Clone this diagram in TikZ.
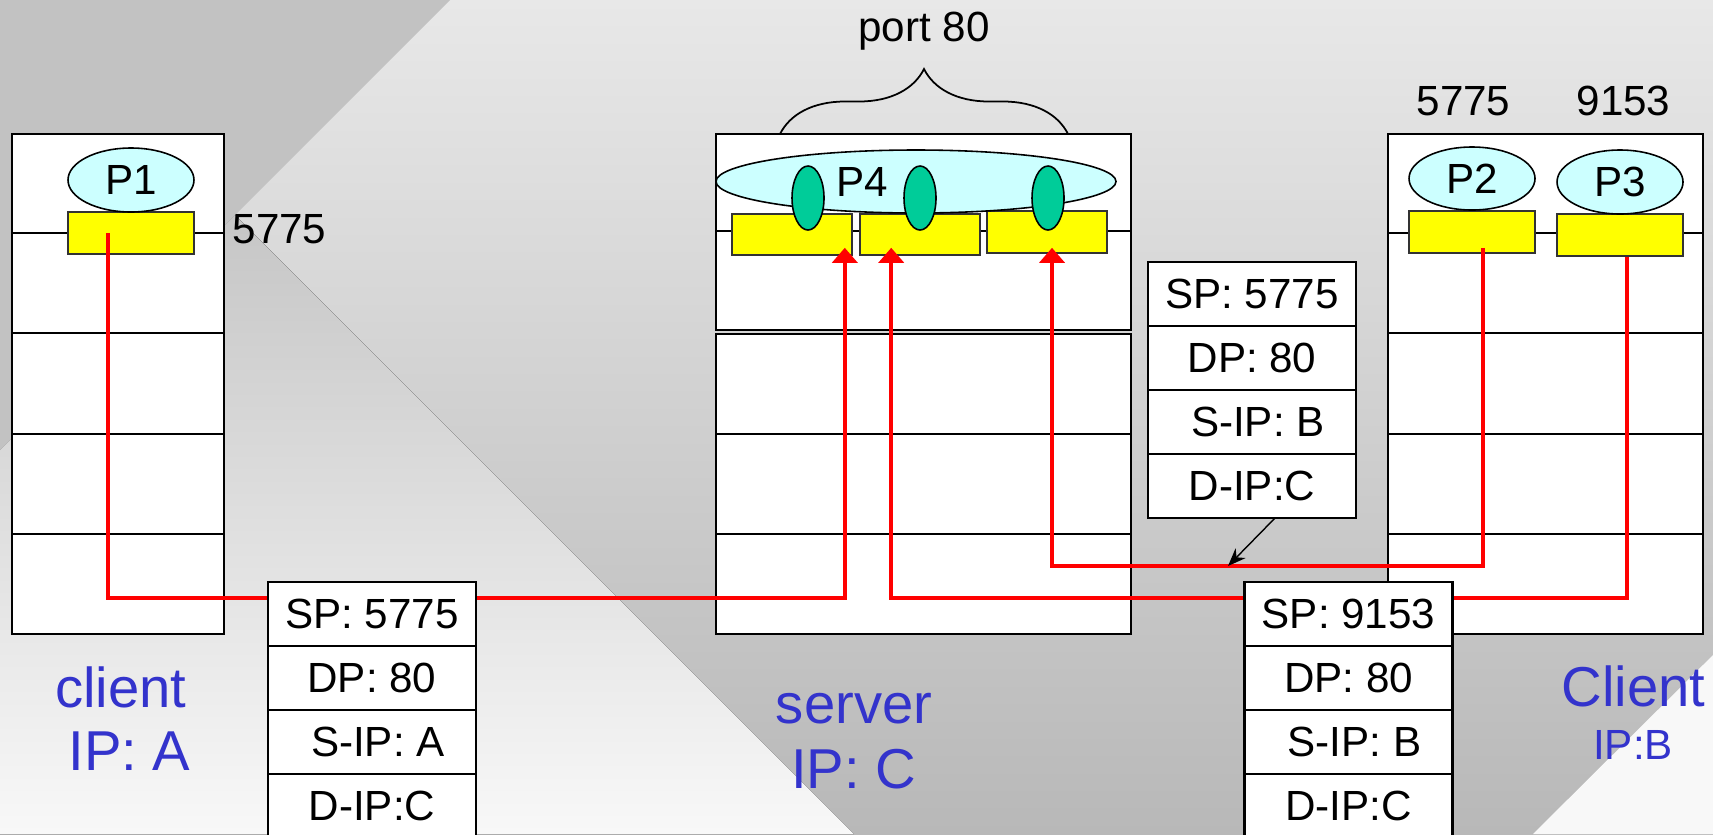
\documentclass[tikz,border=0pt]{standalone}
\usepackage{fontspec}
\setmainfont{Liberation Sans}
\usetikzlibrary{shapes.geometric,arrows.meta,positioning,decorations.pathreplacing}
\definecolor{bgtop}{HTML}{E8E8E8}
\definecolor{bgbot}{HTML}{B8B8B8}
\definecolor{lowtop}{HTML}{C6C6C6}
\definecolor{lowbot}{HTML}{F8F8F8}
\definecolor{cornergray}{HTML}{C2C2C2}
\definecolor{proccyan}{HTML}{CCFFFF}
\definecolor{sockyellow}{HTML}{FFFF00}
\definecolor{threadgreen}{HTML}{00CC99}
\definecolor{hostblue}{HTML}{3333CC}
\tikzstyle{host} = [rectangle, draw, line width=0.6pt, fill=white, inner sep=0pt, outer sep=0pt]
\tikzstyle{layer} = [draw, line width=0.6pt]
\tikzstyle{sock} = [rectangle, draw=black!80, line width=0.45pt, fill=sockyellow, minimum width=1.26cm, minimum height=0.42cm, inner sep=0pt]
\tikzstyle{proc} = [ellipse, draw, line width=0.45pt, fill=proccyan, minimum width=1.26cm, minimum height=0.64cm, inner sep=0pt]
\tikzstyle{thread} = [ellipse, draw, line width=0.45pt, fill=threadgreen, minimum width=0.32cm, minimum height=0.64cm, inner sep=0pt]
\tikzstyle{field} = [rectangle, draw, line width=0.6pt, fill=white, minimum width=2.08cm, minimum height=0.64cm, inner sep=0pt, outer sep=0pt]
\tikzstyle{flow} = [draw, red, line width=1.2pt, -{Triangle[width=0.25cm,length=0.15cm]}]
\tikzstyle{iplabel} = [text=hostblue, font=\fontsize{16}{18}\selectfont, anchor=base, inner sep=0pt]

\begin{document}
\begin{tikzpicture}[font=\fontsize{12}{14}\selectfont]

\useasboundingbox (0,0) rectangle (17.13,-8.34);
\clip (0,0) rectangle (17.13,-8.34);

% background
\fill [top color=bgtop, bottom color=bgbot] (0,0) rectangle (17.13,-8.34);
\fill [top color=lowtop, bottom color=lowbot] (0,-4.50) -- (2.35,-2.15) -- (8.54,-8.34) -- (0,-8.34) -- cycle;
\fill [cornergray] (0,0) -- (4.50,0) -- (0,-4.50) -- cycle;
\fill [lowbot] (17.13,-6.55) -- (17.13,-8.34) -- (15.33,-8.34) -- cycle;

% hosts
\node [host, minimum width=2.12cm, minimum height=5cm] at (1.18,-3.84) (hostA) {};
\node [host, minimum width=4.15cm, minimum height=1.96cm] at (9.235,-2.32) (srvTop) {};
\node [host, minimum width=4.15cm, minimum height=3cm] at (9.235,-4.84) (srvBot) {};
\node [host, minimum width=3.15cm, minimum height=5cm] at (15.455,-3.84) (hostB) {};

\foreach \dy in {0.99,1.99,3.00,4.00} {
  \path [layer] ([yshift=-\dy cm]hostA.north west) -- ([yshift=-\dy cm]hostA.north east);
  \path [layer] ([yshift=-\dy cm]hostB.north west) -- ([yshift=-\dy cm]hostB.north east);
}
\path [layer] ([yshift=-0.97cm]srvTop.north west) -- ([yshift=-0.97cm]srvTop.north east);
\foreach \dy in {1.00,2.00}
  \path [layer] ([yshift=-\dy cm]srvBot.north west) -- ([yshift=-\dy cm]srvBot.north east);

% sockets
\node [sock] at (1.31,-2.33) (sockA) {};
\node [sock, minimum width=1.20cm, minimum height=0.41cm] at (7.92,-2.345) (s1) {};
\node [sock, minimum width=1.20cm, minimum height=0.41cm] at (9.20,-2.345) (s2) {};
\node [sock, minimum width=1.20cm] at (10.47,-2.32) (s3) {};
\node [sock] at (14.72,-2.32) (sockP2) {};
\node [sock] at (16.20,-2.35) (sockP3) {};

% processes
\node [proc] at (1.31,-1.80) (p1) {P1};
\node [proc, minimum width=4cm, minimum height=0.63cm] at (9.16,-1.815) (p4) {};
\node at (8.62,-1.82) (p4txt) {P4};
\node [thread] at (8.08,-1.98) (t1) {};
\node [thread] at (9.20,-1.98) (t2) {};
\node [thread] at (10.48,-1.98) (t3) {};
\node [proc, minimum height=0.63cm] at (14.72,-1.785) (p2) {P2};
\node [proc] at (16.20,-1.82) (p3) {P3};

% port numbers
\node [anchor=base] at (2.795,-2.43) (portA) {5775};
\node [anchor=base] at (14.635,-1.15) (portP2) {5775};
\node [anchor=base] at (16.235,-1.15) (portP3) {9153};
\draw [decorate, decoration={brace, amplitude=0.65cm}, line width=0.5pt]
  ([xshift=0.64cm]srvTop.north west) -- ([xshift=-0.63cm]srvTop.north east);
\node [anchor=base] at (9.24,-0.41) (port80) {port 80};

% demultiplexing paths
\coordinate (busA) at (0,-5.98);
\coordinate (busB) at (0,-5.66);
\coordinate (tipA) at ([xshift=-0.08cm,yshift=0.08cm]s1.south east);
\coordinate (tipB) at ([xshift=0.32cm,yshift=0.08cm]s2.south west);
\coordinate (tipC) at ([xshift=0.05cm,yshift=0.06cm]s3.south);
\path [flow] ([xshift=-0.23cm]sockA.center) |- (tipA |- busA) -- (tipA);
\path [flow] ([xshift=0.07cm]sockP3.south) |- (tipB |- busA) -- (tipB);
\path [flow] ([xshift=0.11cm,yshift=0.06cm]sockP2.south) |- (tipC |- busB) -- (tipC);

% segments
\node [field] at (3.72,-6.14) (pktA1) {SP: 5775};
\node [field, below=0cm of pktA1] (pktA2) {DP: 80};
\node [field, below=0cm of pktA2] (pktA3) {\ S-IP: A};
\node [field, below=0cm of pktA3] (pktA4) {D-IP:C};

\node [field] at (13.485,-6.14) (pktB1) {SP: 9153};
\node [field, below=0cm of pktB1] (pktB2) {DP: 80};
\node [field, below=0cm of pktB2] (pktB3) {\ S-IP: B};
\node [field, below=0cm of pktB3] (pktB4) {D-IP:C};

\node [field] at (12.52,-2.94) (pktC1) {SP: 5775};
\node [field, below=0cm of pktC1] (pktC2) {DP: 80};
\node [field, below=0cm of pktC2] (pktC3) {\ S-IP: B};
\node [field, below=0cm of pktC3] (pktC4) {D-IP:C};

\coordinate (hit) at (12.28,-5.66);
\draw [line width=0.4pt, -{Stealth[length=0.18cm,width=0.14cm]}] ([xshift=0.23cm]pktC4.south) -- (hit);

% host names
\node [iplabel] at (1.21,-7.07) (nameA) {client};
\node [iplabel] at (1.295,-7.70) (ipA) {IP: A};
\node [iplabel] at (8.54,-7.23) (nameS) {server};
\node [iplabel] at (8.535,-7.88) (ipS) {IP: C};
\node [iplabel] at (16.335,-7.06) (nameB) {Client};
\node [iplabel, font=\fontsize{12}{14}\selectfont] at (16.33,-7.59) (ipB) {IP:B};

\end{tikzpicture}
\end{document}
